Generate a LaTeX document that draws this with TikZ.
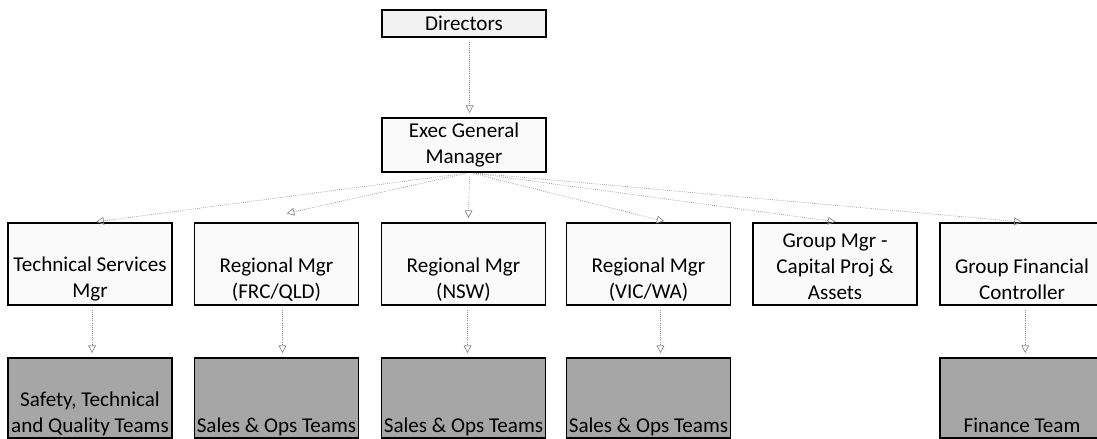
\documentclass[tikz,border=0pt]{standalone}
\usepackage{fontspec}
\setmainfont{Carlito}
\usetikzlibrary{arrows.meta}

\begin{document}
\begin{tikzpicture}[
    x=0.025cm, y=-0.025cm,
    font=\fontsize{15}{18.5}\selectfont,
    box/.style={rectangle, draw=black, line width=0.9pt,
                minimum width=4.1cm, align=center, inner sep=0pt},
    top/.style={box, fill=black!5, minimum height=0.675cm},
    exec/.style={box, fill=black!2, minimum height=1.35cm},
    mgr/.style={box, fill=black!2, minimum height=2.05cm},
    team/.style={box, fill=black!35, minimum height=2.0cm},
    txt/.style={align=center, inner sep=1pt},
    teamtxt/.style={txt, anchor=south, yshift=1pt},
    link/.style={densely dotted, draw=black!45, line width=0.5pt,
                 -{Triangle[open, length=5.5pt, width=5.5pt]},
                 shorten <=3pt, shorten >=3pt}
]
    \useasboundingbox (0,0) rectangle (1097,439);

    \node[top]  (dir)  at (464, 23.5) {Directors};
    \node[exec] (egm)  at (464, 145) {Exec General\\Manager};

    \node[mgr, label={[txt, name=techtxt, yshift=-0.38cm]center:Technical Services\\Mgr}] (tech) at (90, 264) {};
    \node[mgr, label={[txt, name=frctxt, yshift=-0.38cm]center:Regional Mgr\\(FRC/QLD)}] (frc) at (276.5, 264) {};
    \node[mgr, label={[txt, name=nswtxt, yshift=-0.38cm]center:Regional Mgr\\(NSW)}] (nsw) at (463.5, 264) {};
    \node[mgr, label={[txt, name=victxt, yshift=-0.38cm]center:Regional Mgr\\(VIC/WA)}] (vic) at (648.5, 264) {};
    \node[mgr, label={[txt, name=captxt, yshift=-0.06cm]center:Group Mgr -\\Capital Proj \&\\Assets}] (cap) at (835, 264) {};
    \node[mgr, label={[txt, name=gfctxt, yshift=-0.38cm]center:Group Financial\\Controller}] (gfc) at (1022, 264) {};

    \node[team, label={[teamtxt, name=safetxt]south:Safety, Technical\\and Quality Teams}] (safe) at (90, 398) {};
    \node[team, label={[teamtxt, name=frcteamtxt]south:Sales \& Ops Teams}] (frcteam) at (276.5, 398) {};
    \node[team, label={[teamtxt, name=nswteamtxt]south:Sales \& Ops Teams}] (nswteam) at (463.5, 398) {};
    \node[team, label={[teamtxt, name=victeamtxt]south:Sales \& Ops Teams}] (victeam) at (648.5, 398) {};
    \node[team, label={[teamtxt, name=fintxt, text depth=0.22em]south:Finance Team}] (fin) at (1022, 398) {};

    % top of the tree
    \draw[link] ([xshift=0.14cm]dir.south) -- ([xshift=0.14cm]egm.north);

    % exec to managers
    \draw[link] ([xshift=0.14cm]egm.south) -- ([xshift=0.05cm]tech.north);
    \draw[link] ([xshift=0.14cm]egm.south) -- ([xshift=0.15cm, yshift=0.2cm]frc.north);
    \draw[link] ([xshift=0.14cm]egm.south) -- ([xshift=0.12cm]nsw.north);
    \draw[link] ([xshift=0.14cm]egm.south) -- ([xshift=0.5cm]vic.north);
    \draw[link] ([xshift=0.14cm]egm.south) -- ([xshift=0.12cm]cap.north);
    \draw[link] ([xshift=0.14cm]egm.south) -- ([xshift=0.1cm]gfc.north);

    % managers to teams
    \draw[link] ([xshift=0.05cm]tech.south) -- ([xshift=0.05cm]safe.north);
    \draw[link] ([xshift=0.15cm]frc.south) -- ([xshift=0.15cm]frcteam.north);
    \draw[link] ([xshift=0.1cm]nsw.south) -- ([xshift=0.1cm]nswteam.north);
    \draw[link] ([xshift=0.3cm]vic.south) -- ([xshift=0.3cm]victeam.north);
    \draw[link] ([xshift=0.08cm]gfc.south) -- ([xshift=0.08cm]fin.north);
\end{tikzpicture}
\end{document}
